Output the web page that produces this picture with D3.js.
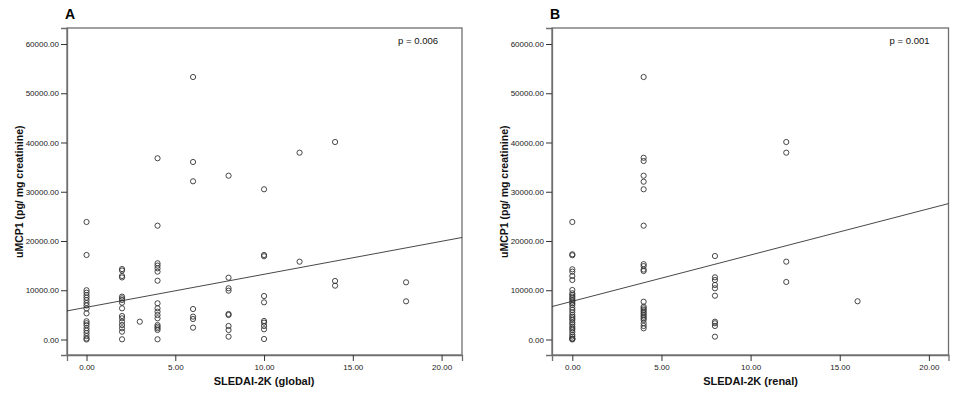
<!DOCTYPE html>
<html><head><meta charset="utf-8">
<script src="https://cdn.jsdelivr.net/npm/d3@7"></script>
<style>
html,body{margin:0;padding:0;background:#fff;}
svg{display:block;font-family:"Liberation Sans",Arial,sans-serif;}
</style></head>
<body>
<svg id="chart" width="960" height="399"></svg>
<script>
// ---- Data ----
const yTicks = [0, 10000, 20000, 30000, 40000, 50000, 60000];
const xTicks = [0, 5, 10, 15, 20];

// Panel A: SLEDAI-2K (global) score and uMCP1 values at each score
const globalScores = [0, 2, 3, 4, 6, 8, 10, 12, 14, 18];
const globalMCP = [
  [23860, 17160, 10000, 9500, 9000, 8500, 8000, 7400, 6900, 6300, 5300, 3700, 3300, 2900, 2300, 1800, 1300, 700, 200, 0],
  [14300, 14000, 12900, 12600, 8700, 8360, 8020, 7470, 6330, 4770, 4300, 3610, 2940, 2270, 1580, 40],
  [3610],
  [36800, 23110, 15470, 15000, 14450, 13770, 11940, 7350, 6330, 5650, 4970, 4300, 2940, 2600, 2270, 1930, 40],
  [53300, 36040, 32120, 6190, 4640, 4160, 2400],
  [33260, 12550, 10400, 9910, 5180, 4970, 2740, 1930, 570],
  [30500, 17160, 16900, 8830, 7550, 3760, 3420, 2740, 2070, 100],
  [37930, 15800],
  [40100, 11880, 10930],
  [11610, 7750]
];
const globalFit = [6540, 670];   // intercept, slope
const globalP = "p = 0.006";

// Panel B: SLEDAI-2K (renal) score and uMCP1 values at each score
const renalScores = [0, 4, 8, 12, 16];
const renalMCP = [
  [23860, 17300, 17100, 14250, 13770, 12890, 12080, 10050, 9380, 9040, 8700, 8360, 8020, 7690, 7350, 7010, 6460, 6000, 5520, 5000, 4630, 4300, 3970, 3500, 3090, 2620, 2290, 1960, 1490, 950, 600, 200, 140, 0],
  [53300, 36900, 36240, 33260, 32040, 30500, 23110, 15300, 14900, 14200, 13900, 7670, 6660, 6330, 5990, 5650, 5320, 4970, 4630, 4300, 3960, 3290, 2740, 2270],
  [16950, 12630, 12080, 11070, 10400, 8890, 3610, 3290, 2740, 570],
  [40100, 37930, 15800, 11680],
  [7760]
];
const renalFit = [7760, 940];
const renalP = "p = 0.001";

// ---- Drawing ----
const svg = d3.select("#chart");
const axisColor = "#6f6f6f";

function panel(cfg) {
  const g = svg.append("g");
  const x = d3.scaleLinear().domain([cfg.xmin, cfg.xmax]).range([cfg.left, cfg.right]);
  const y = d3.scaleLinear().domain([cfg.ymin, cfg.ymax]).range([cfg.bottom, cfg.top]);

  // frame
  g.append("rect")
    .attr("x", cfg.left).attr("y", cfg.top)
    .attr("width", cfg.right - cfg.left).attr("height", cfg.bottom - cfg.top)
    .attr("fill", "none").attr("stroke", axisColor).attr("stroke-width", 1.3);

  // axes
  const yAxis = d3.axisLeft(y).tickValues(yTicks).tickSize(6).tickPadding(2)
    .tickFormat(d3.format(".2f"));
  const xAxis = d3.axisBottom(x).tickValues(xTicks).tickSize(6).tickPadding(3)
    .tickFormat(d3.format(".2f"));
  const ya = g.append("g").attr("transform", `translate(${cfg.left},0)`).call(yAxis);
  const xa = g.append("g").attr("transform", `translate(0,${cfg.bottom})`).call(xAxis);
  [ya, xa].forEach(a => {
    a.select(".domain").attr("stroke", axisColor).attr("stroke-width", 1.3);
    a.selectAll(".tick line").attr("stroke", "#333").attr("stroke-width", 1);
    a.selectAll(".tick text").attr("fill", "#222").style("font-size", "8px")
      .style("font-family", "'Liberation Sans', Arial, sans-serif");
  });

  // points
  const pts = [];
  cfg.scores.forEach((s, i) => cfg.values[i].forEach(v => pts.push([s, v])));
  g.append("g").selectAll("circle").data(pts).join("circle")
    .attr("cx", d => x(d[0])).attr("cy", d => y(d[1])).attr("r", 2.6)
    .attr("fill", "none").attr("stroke", "#333").attr("stroke-width", 0.9);

  // fit line
  const line = d3.line().x(d => x(d)).y(d => y(cfg.fit[0] + cfg.fit[1] * d));
  g.append("path").datum([cfg.xmin, cfg.xmax]).attr("d", line)
    .attr("fill", "none").attr("stroke", "#333").attr("stroke-width", 0.9);

  // p value
  g.append("text").attr("x", cfg.right - cfg.pOff).attr("y", cfg.top + 16)
    .attr("text-anchor", "end").style("font-size", "9.5px").attr("fill", "#111")
    .text(cfg.p);

  // panel letter
  g.append("text").attr("x", cfg.left - 2).attr("y", 19)
    .style("font-size", "14px").style("font-weight", "bold").attr("fill", "#000")
    .text(cfg.letter);

  // axis titles
  g.append("text").attr("x", (x(0) + x(20)) / 2).attr("y", 385)
    .attr("text-anchor", "middle").style("font-size", "11px").style("font-weight", "bold")
    .attr("fill", "#111").text(cfg.xTitle);
  g.append("text")
    .attr("transform", `translate(${cfg.left - 44},${(y(0) + y(60000)) / 2}) rotate(-90)`)
    .attr("text-anchor", "middle").style("font-size", "10.5px").style("font-weight", "bold")
    .attr("fill", "#111").text("uMCP1 (pg/ mg creatinine)");
}

panel({
  left: 67, right: 462, top: 28, bottom: 355,
  xmin: -1.1, xmax: 21.15, ymin: -3150, ymax: 63250,
  scores: globalScores, values: globalMCP, fit: globalFit, p: globalP, pOff: 24,
  letter: "A", xTitle: "SLEDAI-2K (global)"
});
panel({
  left: 552, right: 948.5, top: 28, bottom: 355,
  xmin: -1.14, xmax: 21.1, ymin: -3150, ymax: 63250,
  scores: renalScores, values: renalMCP, fit: renalFit, p: renalP, pOff: 19,
  letter: "B", xTitle: "SLEDAI-2K (renal)"
});
</script>
</body></html>
